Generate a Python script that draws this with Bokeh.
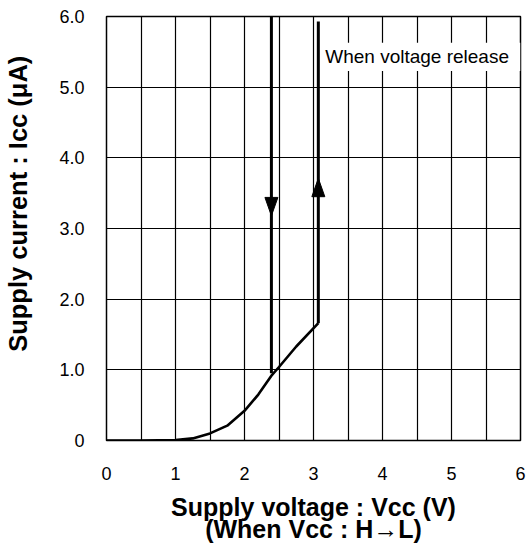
import math
from bokeh.plotting import figure
from bokeh.layouts import row
from bokeh.models import FixedTicker, Range1d
from bokeh.core.properties import value
from bokeh.embed import file_html
from bokeh.resources import INLINE

# ---- data ----
curve_v = [0.0, 0.5, 1.0, 1.25, 1.5, 1.75, 2.0, 2.2, 2.4, 2.5, 2.75, 3.07]
curve_i = [0.0, 0.0, 0.005, 0.03, 0.1, 0.21, 0.42, 0.65, 0.93, 1.04, 1.33, 1.66]
down_v = [2.39, 2.39]
down_i = [6.0, 0.95]
up_v = [3.07, 3.07]
up_i = [1.66, 5.93]
arrow_down_tip = 3.18
arrow_up_tip = 3.71
x_ticks = [0, 1, 2, 3, 4, 5, 6]
y_ticks = [0, 1, 2, 3, 4, 5, 6]
y_tick_labels = ["0", "1.0", "2.0", "3.0", "4.0", "5.0", "6.0"]
note_text = "When voltage release"
x_title = ["Supply voltage : Vcc (V)", "(When Vcc : H\u2192L)"]
y_title = "Supply current : Icc (\u03bcA)"

FONT = "Liberation Sans"
TITLE_W = 40
H = 548

# ---- narrow strip holding the vertical axis title (pixel coordinates) ----
t = figure(width=TITLE_W, height=H, x_range=Range1d(0, TITLE_W), y_range=Range1d(H, 0),
           x_axis_type=None, y_axis_type=None, output_backend="svg", toolbar_location=None,
           min_border=0)
t.outline_line_color = None
t.background_fill_color = "white"
t.border_fill_color = "white"
t.grid.visible = False
t.text(x=[17], y=[242], text=[y_title], angle=math.pi / 2, text_font=value(FONT),
       text_font_size="25.5px", text_font_style="bold", text_align="center",
       text_baseline="middle", text_color="black")

# ---- main chart ----
p = figure(frame_width=414, frame_height=424,
           x_range=Range1d(0, 6), y_range=Range1d(0, 6),
           output_backend="svg", toolbar_location=None,
           min_border_left=106 - TITLE_W, min_border_top=16, min_border_right=8,
           min_border_bottom=108)
p.background_fill_color = "white"
p.border_fill_color = "white"
p.outline_line_color = "black"
p.outline_line_width = 1.5

# grid
p.xgrid.ticker = FixedTicker(ticks=[k * 0.5 for k in range(13)])
p.ygrid.ticker = FixedTicker(ticks=y_ticks)
for g in (p.xgrid, p.ygrid):
    g.grid_line_color = "black"
    g.grid_line_width = 1.2
    g.grid_line_alpha = 1.0

# axes
p.xaxis.ticker = FixedTicker(ticks=x_ticks)
p.yaxis.ticker = FixedTicker(ticks=y_ticks)
p.yaxis.major_label_overrides = {t_: s for t_, s in zip(y_ticks, y_tick_labels)}
for ax in (p.xaxis, p.yaxis):
    ax.axis_line_color = None
    ax.major_tick_line_color = None
    ax.minor_tick_line_color = None
    ax.major_label_text_font = FONT
    ax.major_label_text_font_size = "18px"
    ax.major_label_text_color = "black"
p.xaxis.major_label_standoff = 20
p.yaxis.major_label_standoff = 16

# x title: two lines with tight spacing
p.xaxis.axis_label = "\n".join(x_title)
p.xaxis.axis_label_text_font = FONT
p.xaxis.axis_label_text_font_size = "25px"
p.xaxis.axis_label_text_font_style = "bold"
p.xaxis.axis_label_text_color = "black"
p.xaxis.axis_label_text_line_height = 0.79
p.xaxis.axis_label_standoff = 10

# curves
p.line(curve_v, curve_i, line_color="black", line_width=2.6)
p.line(down_v, down_i, line_color="black", line_width=3)
p.line(up_v, up_i, line_color="black", line_width=3)

# arrow heads
hw = 0.094   # half width in x units
hl = 0.26    # length in y units
dx = down_v[0]
ux = up_v[0]
p.patches(xs=[[dx - hw, dx + hw, dx], [ux - hw, ux + hw, ux]],
          ys=[[arrow_down_tip + hl, arrow_down_tip + hl, arrow_down_tip],
              [arrow_up_tip - hl, arrow_up_tip - hl, arrow_up_tip]],
          fill_color="black", line_color="black", line_width=1)

# note with white background
p.quad(left=[3.13], right=[6.0], bottom=[5.23], top=[5.63], fill_color="white", line_color=None)
p.text(x=[3.17], y=[5.44], text=[note_text], text_font=value(FONT), text_font_size="19px",
       text_baseline="middle", text_align="left", text_color="black")

layout = row(t, p, spacing=0)
open("out.html", "w").write(file_html(layout, INLINE))
